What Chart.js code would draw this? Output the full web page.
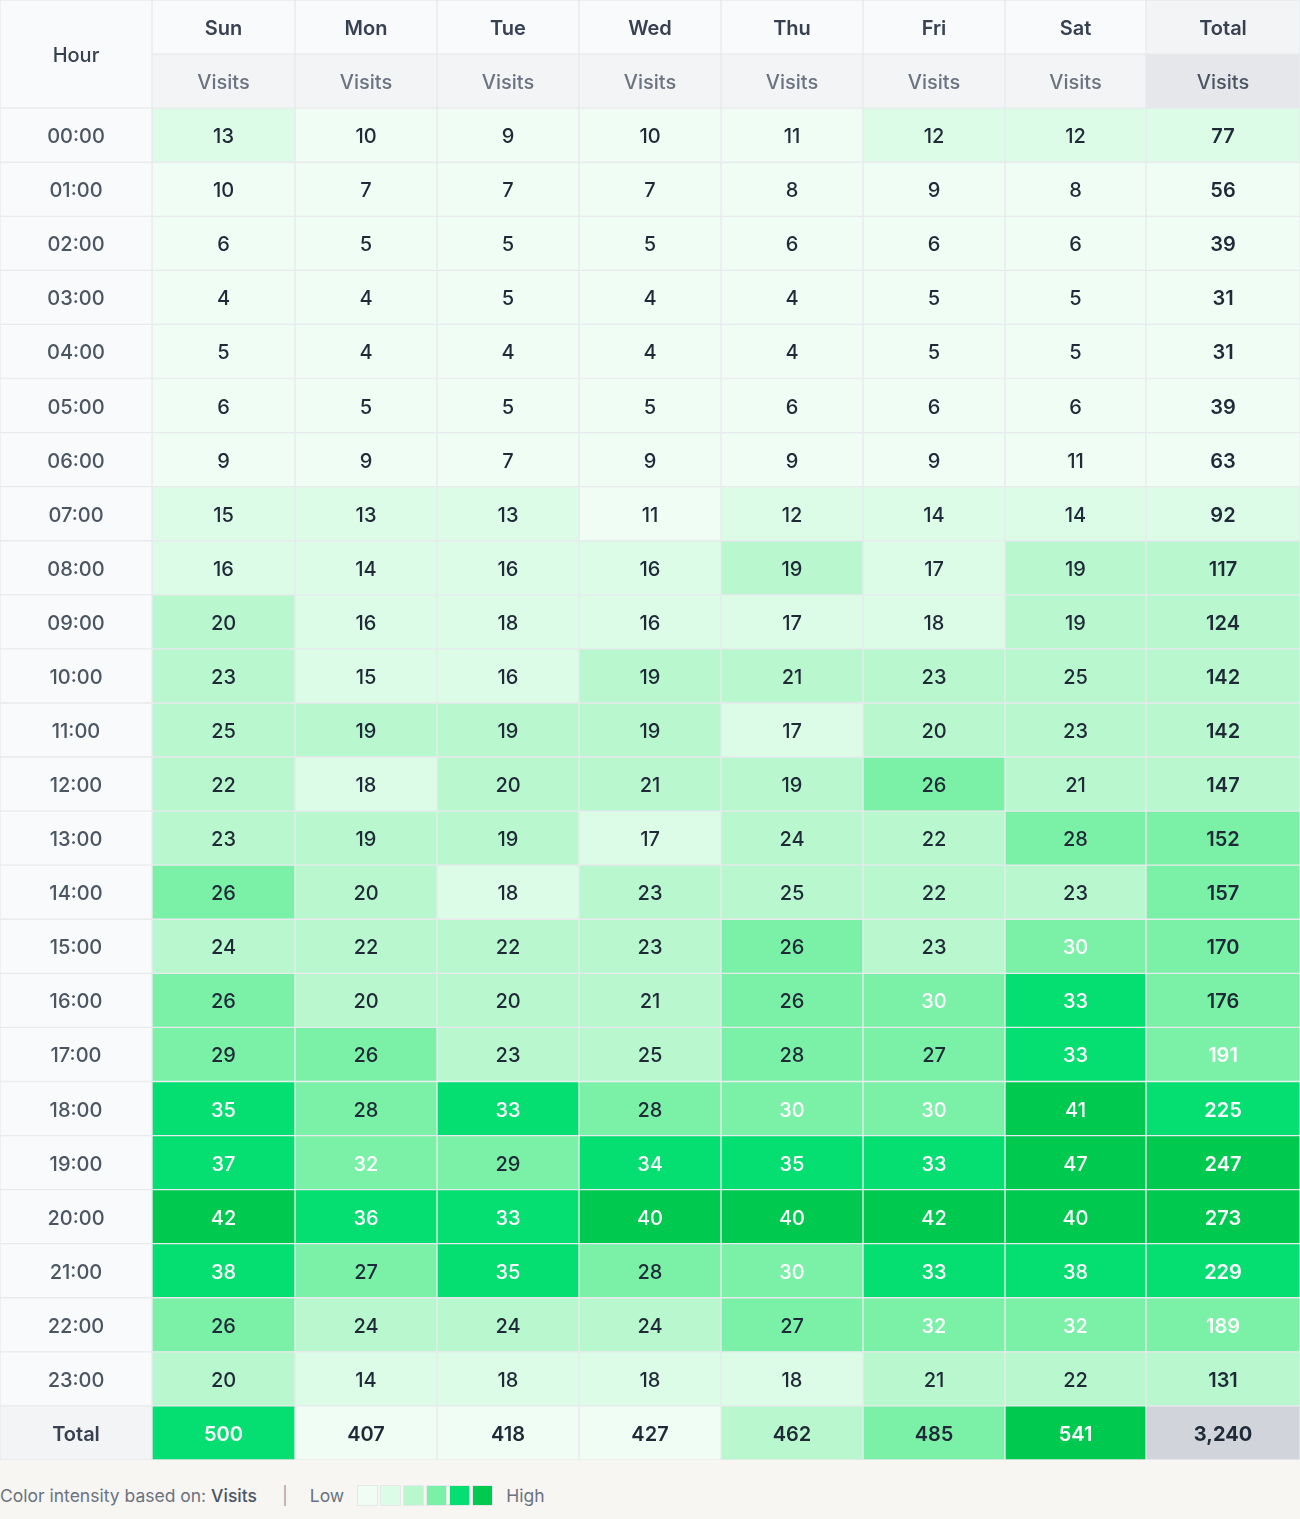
<!DOCTYPE html>
<html>
<head>
<meta charset="utf-8">
<script src="https://cdn.jsdelivr.net/npm/chart.js@4.4.1/dist/chart.umd.min.js"></script>
<style>
  html, body { margin: 0; padding: 0; background: #f7f6f3; }
  body { width: 1300px; height: 1519px; overflow: hidden; font-family: Inter, "Noto Sans", sans-serif; }
  #wrap { width: 1300px; height: 1460px; background: #ffffff; }
  canvas { display: block; }
  #legend { position: absolute; left: 0; top: 1460px; width: 1300px; height: 59px; box-sizing: border-box; padding-top: 11px; display: flex; align-items: center; font-size: 17.5px; color: #6b7280; }
  #legend b { font-weight: 500; color: #4b5563; }
  #legend .sep { margin-left: 25px; margin-right: 22px; color: #9ca3af; }
  #legend .sw { display: inline-block; width: 21px; height: 21px; margin-right: 2px; box-sizing: border-box; border: 1px solid #e5e7eb; }
  #legend .low { margin-right: 13px; }
  #legend .high { margin-left: 11px; }
</style>
</head>
<body>
<div id="wrap"><canvas id="c" width="1300" height="1460"></canvas></div>
<div id="legend">
  <span>Color intensity based on: <b>Visits</b></span>
  <span class="sep">|</span>
  <span class="low">Low</span>
  <span id="swatches"></span>
  <span class="high">High</span>
</div>
<script>
// ---- data ----
const hours = ['00:00','01:00','02:00','03:00','04:00','05:00','06:00','07:00','08:00','09:00','10:00','11:00',
               '12:00','13:00','14:00','15:00','16:00','17:00','18:00','19:00','20:00','21:00','22:00','23:00'];
const days = ['Sun','Mon','Tue','Wed','Thu','Fri','Sat'];
const metricLabel = 'Visits';
const sun = [13,10,6,4,5,6,9,15,16,20,23,25,22,23,26,24,26,29,35,37,42,38,26,20];
const mon = [10,7,5,4,4,5,9,13,14,16,15,19,18,19,20,22,20,26,28,32,36,27,24,14];
const tue = [9,7,5,5,4,5,7,13,16,18,16,19,20,19,18,22,20,23,33,29,33,35,24,18];
const wed = [10,7,5,4,4,5,9,11,16,16,19,19,21,17,23,23,21,25,28,34,40,28,24,18];
const thu = [11,8,6,4,4,6,9,12,19,17,21,17,19,24,25,26,26,28,30,35,40,30,27,18];
const fri = [12,9,6,5,5,6,9,14,17,18,23,20,26,22,22,23,30,27,30,33,42,33,32,21];
const sat = [12,8,6,5,5,6,11,14,19,19,25,23,21,28,23,30,33,33,41,47,40,38,32,22];
const hourTotals = [77,56,39,31,31,39,63,92,117,124,142,142,147,152,157,170,176,191,225,247,273,229,189,131];
const dayTotals = [500,407,418,427,462,485,541];
const grandTotal = 3240;

// ---- styling / layout config ----
const palette = ['#f0fdf4','#dcfce7','#b9f8cf','#7bf1a8','#05df72','#00c950'];
const colWidths = [152,143,142,142,142,142,142,141,154]; // Hour, 7 days, Total
const colEdges = colWidths.reduce((a, w) => { a.push(a[a.length-1] + w); return a; }, [0]);
const dayCols = [sun, mon, tue, wed, thu, fri, sat];
const rowKeys = ['h1','h2', ...hours, 'total'];
const NR = rowKeys.length;

const allDay = dayCols.flat();
const dMin = Math.min(...allDay), dMax = Math.max(...allDay);
const tMin = Math.min(...hourTotals), tMax = Math.max(...hourTotals);
const rMin = Math.min(...dayTotals), rMax = Math.max(...dayTotals);

function intensity(v, lo, hi) { return hi === lo ? 0 : (v - lo) / (hi - lo); }
function level(t) { return Math.min(5, Math.floor(t * 6)); }

function cellInfo(c, r) {
  const isHour = c === 0, isTotalCol = c === 8;
  if (r === 0) {
    if (isHour) return {bg:'#f9fafb', text:'Hour', color:'#374151', weight:500};
    if (isTotalCol) return {bg:'#f3f4f6', text:'Total', color:'#374151', weight:600};
    return {bg:'#f9fafb', text:days[c-1], color:'#374151', weight:600};
  }
  if (r === 1) {
    if (isHour) return {bg:'#f9fafb', text:'', color:'#374151', weight:500};
    if (isTotalCol) return {bg:'#e5e7eb', text:metricLabel, color:'#4b5563', weight:500};
    return {bg:'#f3f4f6', text:metricLabel, color:'#6b7280', weight:500};
  }
  if (r === NR - 1) {
    if (isHour) return {bg:'#f3f4f6', text:'Total', color:'#374151', weight:600};
    if (isTotalCol) return {bg:'#d1d5db', text:grandTotal.toLocaleString('en-US'), color:'#1f2937', weight:700};
    const v = dayTotals[c-1]; const t = intensity(v, rMin, rMax);
    return {bg:palette[level(t)], text:v.toLocaleString('en-US'), color: t >= 0.6 ? '#ffffff' : '#1f2937', weight:600};
  }
  const h = r - 2;
  if (isHour) return {bg:'#f9fafb', text:hours[h], color:'#4b5563', weight:500};
  if (isTotalCol) {
    const v = hourTotals[h]; const t = intensity(v, tMin, tMax);
    return {bg:palette[level(t)], text:String(v), color: t >= 0.6 ? '#ffffff' : '#1f2937', weight:600};
  }
  const v = dayCols[c-1][h]; const t = intensity(v, dMin, dMax);
  return {bg:palette[level(t)], text:String(v), color: t >= 0.6 ? '#ffffff' : '#1f2937', weight:500};
}

const datasets = colWidths.map((w, c) => ({
  label: c === 0 ? 'Hour' : (c === 8 ? 'Total' : days[c-1]),
  data: rowKeys.map(() => [colEdges[c], colEdges[c+1]]),
  backgroundColor: (ctx) => cellInfo(ctx.datasetIndex, ctx.dataIndex).bg,
  borderColor: '#e8eaed',
  borderWidth: (ctx) => {
    if (ctx.datasetIndex === 0 && ctx.dataIndex === 0) return {top:1,left:1,right:1,bottom:0};
    if (ctx.datasetIndex === 0 && ctx.dataIndex === 1) return {top:0,left:1,right:1,bottom:1};
    return 1;
  },
  borderSkipped: false,
  grouped: false,
  barPercentage: 1,
  categoryPercentage: 1
}));

const labelPlugin = {
  id: 'cellLabels',
  afterDatasetsDraw(chart) {
    const ctx = chart.ctx;
    ctx.save();
    ctx.textAlign = 'center';
    ctx.textBaseline = 'middle';
    chart.data.datasets.forEach((ds, c) => {
      const meta = chart.getDatasetMeta(c);
      meta.data.forEach((el, r) => {
        const info = cellInfo(c, r);
        if (!info.text) return;
        const p = el.getProps(['x','y','base','height'], true);
        const cx = (p.x + p.base) / 2;
        let cy = p.y;
        if (c === 0 && r === 0) {
          const n = meta.data[1].getProps(['y'], true);
          cy = (p.y + n.y) / 2;
        }
        ctx.font = info.weight + ' 20px Inter, "Noto Sans", sans-serif';
        ctx.fillStyle = info.color;
        ctx.fillText(info.text, cx, cy + 2);
      });
    });
    ctx.restore();
  }
};

new Chart(document.getElementById('c'), {
  type: 'bar',
  data: { labels: rowKeys, datasets },
  options: {
    indexAxis: 'y',
    responsive: false,
    animation: false,
    maintainAspectRatio: false,
    layout: { padding: 0 },
    plugins: { legend: { display: false }, tooltip: { enabled: false } },
    scales: {
      x: { type: 'linear', min: 0, max: colEdges[colEdges.length-1], display: false },
      y: { type: 'category', display: false, offset: true }
    }
  },
  plugins: [labelPlugin]
});

const sw = document.getElementById('swatches');
palette.forEach(col => {
  const s = document.createElement('span');
  s.className = 'sw';
  s.style.background = col;
  sw.appendChild(s);
});
sw.style.display = 'inline-flex';
</script>
</body>
</html>
